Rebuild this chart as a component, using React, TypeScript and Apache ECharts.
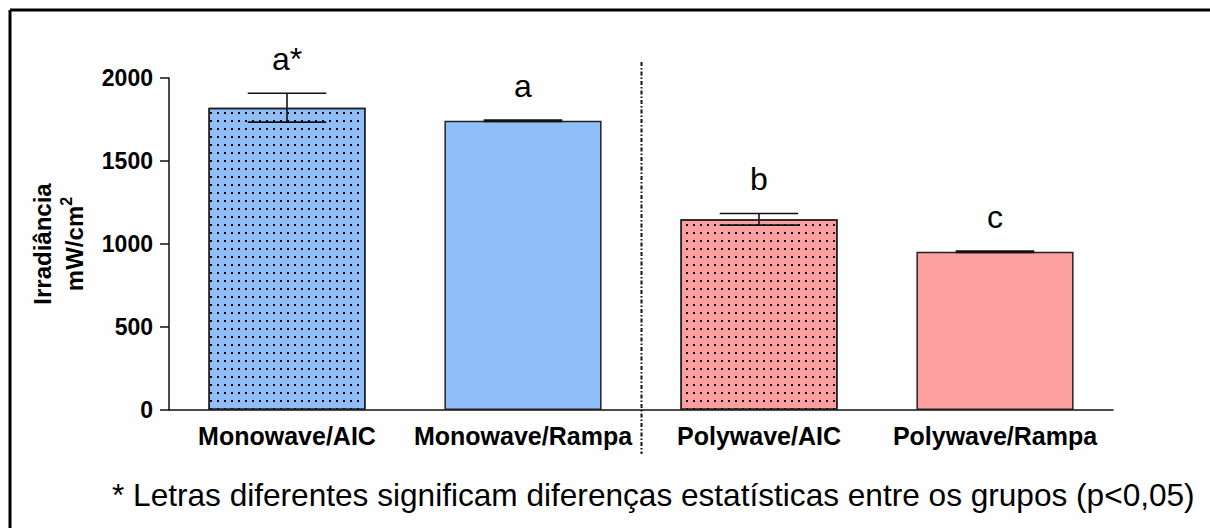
import React, { useEffect, useRef } from "react";
import * as echarts from "echarts";

const categories = ["Monowave/AIC", "Monowave/Rampa", "Polywave/AIC", "Polywave/Rampa"];
const means = [1821, 1742, 1149, 953];
const sds = [87, 4, 35, 4];
const letters = ["a*", "a", "b", "c"];
const barColors = ["#8FBEF8", "#8FBEF8", "#FFA0A0", "#FFA0A0"];
const dotted = [true, false, true, false];
const yMin = 0;
const yMax = 2000;
const yInterval = 500;
const yName = "Irradiância";
const yUnit = "mW/cm";
const footnote = "* Letras diferentes significam diferenças estatísticas entre os grupos (p<0,05)";

const FONT = "'Liberation Sans', Arial, Helvetica, sans-serif";

export default function App() {
  const ref = useRef<HTMLDivElement>(null);
  useEffect(() => {
    if (!ref.current) return;
    const chart = echarts.init(ref.current, null, { renderer: "svg" });
    const decal = {
      symbol: "rect",
      symbolSize: 1,
      color: "#000",
      dashArrayX: [1.6, 4.6],
      dashArrayY: [1.6, 5.2],
    };
    const option: any = {
      animation: false,
      backgroundColor: "#fefefe",
      grid: { left: 169, right: 97, top: 78, bottom: 118, containLabel: false },
      xAxis: {
        type: "category",
        data: categories,
        axisLine: { lineStyle: { color: "#111", width: 1.5 } },
        axisTick: { alignWithLabel: true, length: 8, lineStyle: { color: "#111", width: 1.5 } },
        axisLabel: { interval: 0, color: "#000", fontFamily: FONT, fontWeight: "bold", fontSize: 25, margin: 13 },
      },
      yAxis: {
        type: "value",
        min: yMin,
        max: yMax,
        interval: yInterval,
        splitLine: { show: false },
        axisLine: { show: true, lineStyle: { color: "#111", width: 1.5 } },
        axisTick: { show: true, length: 9, lineStyle: { color: "#111", width: 1.5 } },
        axisLabel: { color: "#000", fontFamily: FONT, fontWeight: "bold", fontSize: 23, margin: 16, formatter: (v: number) => String(v) },
        name: "{n|" + yName + "}\n{n|" + yUnit + "}{sup|2}",
        nameLocation: "middle",
        nameGap: 53,
        nameRotate: 90,
        nameTextStyle: {
          fontFamily: FONT,
          fontWeight: "bold",
          color: "#000",
          lineHeight: 32,
          rich: {
            n: { fontFamily: FONT, fontWeight: "bold", fontSize: 24, color: "#000", lineHeight: 32 },
            sup: { fontFamily: FONT, fontWeight: "bold", fontSize: 16, color: "#000", verticalAlign: "top", lineHeight: 32, padding: [0, 0, 14, 0] },
          },
        },
      },
      series: [
        {
          type: "bar",
          barWidth: "66.6%",
          data: means.map((v, i) => ({
            value: v,
            itemStyle: {
              color: barColors[i],
              borderColor: "#222",
              borderWidth: 1.5,
              decal: dotted[i] ? decal : undefined,
            },
          })),
        },
        {
          type: "custom",
          clip: false,
          z: 5,
          data: means.map((m, i) => [i, m, sds[i]]),
          renderItem: (params: any, api: any) => {
            const i = api.value(0);
            const m = api.value(1);
            const sd = api.value(2);
            const top = api.coord([i, m + sd]);
            const bot = api.coord([i, m - sd]);
            const bw = api.size([1, 0])[0] * 0.666;
            const half = bw / 4;
            const ls = { stroke: "#111", lineWidth: 1.6 };
            return {
              type: "group",
              children: [
                { type: "line", shape: { x1: top[0], y1: top[1], x2: top[0], y2: bot[1] }, style: ls },
                { type: "line", shape: { x1: top[0] - half, y1: top[1], x2: top[0] + half, y2: top[1] }, style: ls },
                { type: "line", shape: { x1: top[0] - half, y1: bot[1], x2: top[0] + half, y2: bot[1] }, style: ls },
                {
                  type: "text",
                  x: top[0],
                  y: top[1] - 18,
                  style: {
                    text: letters[params.dataIndex],
                    font: "32px " + FONT,
                    fill: "#000",
                    align: "center",
                    verticalAlign: "bottom",
                    textAlign: "center",
                    textVerticalAlign: "bottom",
                  },
                },
              ],
            };
          },
        },
      ],
    };
    chart.setOption(option);
    const x1 = chart.convertToPixel({ xAxisIndex: 0 }, categories[1]) as number;
    const x2 = chart.convertToPixel({ xAxisIndex: 0 }, categories[2]) as number;
    const sepX = Math.round((x1 + x2) / 2) + 0.5;
    chart.setOption({
      graphic: [
        { type: "line", shape: { x1: 10, y1: 10, x2: 1210, y2: 10 }, style: { stroke: "#000", lineWidth: 3 } },
        { type: "line", shape: { x1: 10, y1: 10, x2: 10, y2: 528 }, style: { stroke: "#000", lineWidth: 3 } },
        { type: "line", shape: { x1: sepX, y1: 62, x2: sepX, y2: 454 }, style: { stroke: "#111", lineWidth: 2, lineDash: [4, 2, 1.5, 2] } },
        {
          type: "text",
          x: 112,
          y: 495,
          style: {
            text: footnote,
            font: "31.6px " + FONT,
            fill: "#000",
            align: "left",
            verticalAlign: "middle",
            textAlign: "left",
            textVerticalAlign: "middle",
          },
        },
      ],
    });
    return () => chart.dispose();
  }, []);
  return <div ref={ref} style={{ position: "fixed", left: 0, top: 0, width: 1210, height: 528 }} />;
}
